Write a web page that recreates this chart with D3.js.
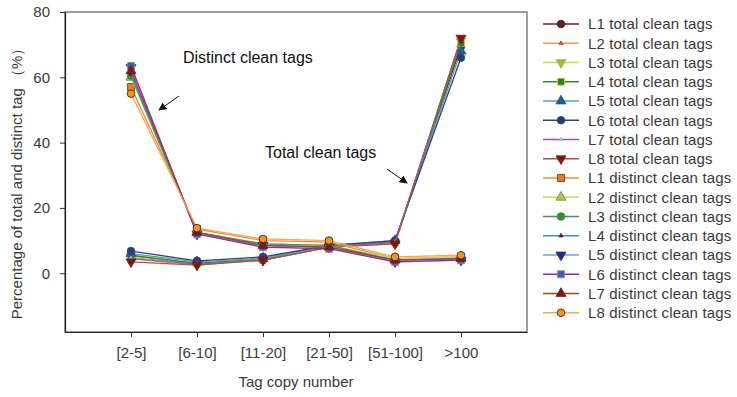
<!DOCTYPE html>
<html lang="en">
<head>
<meta charset="UTF-8" />
<title>Total and distinct clean tags by copy number</title>
<script src="https://d3js.org/d3.v7.min.js"></script>
<style>
  body { margin: 0; background: #fff; overflow: hidden; }
  svg { display: block; font-family: "Liberation Sans", Arial, sans-serif; }
  .tick text { fill: #3a3a3a; font-size: 15px; }
  .legend text { fill: #3a3a3a; font-size: 15px; letter-spacing: 0.15px; }
</style>
</head>
<body>
<svg width="737" height="397"></svg>
<script>
  const width = 737, height = 397;

  const categories = ["[2-5]", "[6-10]", "[11-20]", "[21-50]", "[51-100]", ">100"];
  const yTicks = [0, 20, 40, 60, 80];

  const totalNames = ["L1 total clean tags", "L2 total clean tags", "L3 total clean tags", "L4 total clean tags",
                      "L5 total clean tags", "L6 total clean tags", "L7 total clean tags", "L8 total clean tags"];
  const distinctNames = ["L1 distinct clean tags", "L2 distinct clean tags", "L3 distinct clean tags", "L4 distinct clean tags",
                         "L5 distinct clean tags", "L6 distinct clean tags", "L7 distinct clean tags", "L8 distinct clean tags"];

  // percentages per copy-number bin
  const totalValues = [
    [5.0, 3.0, 4.0, 8.0, 9.5, 69.5],
    [4.5, 2.5, 4.0, 8.0, 9.0, 71.5],
    [5.0, 3.0, 4.0, 8.0, 9.5, 71.0],
    [5.5, 3.0, 4.5, 8.5, 9.5, 70.5],
    [6.0, 3.5, 4.5, 8.5, 10.0, 68.0],
    [6.8, 3.8, 5.0, 8.5, 10.0, 66.0],
    [4.5, 2.8, 4.0, 8.0, 9.5, 72.0],
    [3.5, 2.5, 4.0, 8.0, 9.0, 72.0]
  ];
  const distinctValues = [
    [57.0, 13.5, 10.0, 9.5, 4.5, 5.0],
    [60.0, 12.5, 9.0, 8.5, 4.5, 5.0],
    [60.5, 12.5, 9.0, 8.5, 4.0, 4.5],
    [61.0, 12.5, 8.5, 8.0, 4.0, 4.5],
    [63.0, 12.0, 8.5, 8.0, 3.5, 4.0],
    [63.5, 12.0, 8.0, 7.5, 3.5, 4.0],
    [62.0, 12.5, 8.5, 8.0, 4.0, 4.5],
    [55.0, 13.8, 10.5, 10.0, 5.0, 5.5]
  ];

  // styling, in legend order (8 total then 8 distinct)
  const lineColors = ["#7a1a1a", "#f59a5a", "#c8d850", "#2e8b2e", "#50a8b0", "#3a3a8a", "#a050b0", "#a05a4a",
                      "#f08a40", "#c8d860", "#4a944a", "#30a0b0", "#8898c8", "#8a2aa8", "#a04030", "#f5a850"];
  const markerFills = ["#6b2020", "#e04040", "#9cbc3c", "#2e7d32", "#1f5f7f", "#2e3a80", "#a0c0e0", "#7a1a10",
                       "#e8782a", "#a8c850", "#3a8a3a", "#402060", "#302880", "#4a5aa8", "#7a1a1a", "#f0961e"];
  const markerStrokes = ["#222", "#e04040", "#9cbc3c", "#e0e020", "#1f5f7f", "#2e3a80", "#a0c0e0", "#7a1a10",
                         "#703000", "#708030", "#3a8a3a", "#402060", "#302880", "#60a0c0", "#7a1a1a", "#222"];
  const markerShapes = ["circle", "tiny", "down", "square", "up", "circle", "tiny", "down",
                        "square", "up", "circle", "tiny", "down", "square", "up", "circle"];

  const names = totalNames.concat(distinctNames);
  const allValues = totalValues.concat(distinctValues);
  const series = names.map((n, i) => ({ name: n, values: allValues[i], i }));

  const plot = { left: 65, right: 527, top: 12, bottom: 332 };

  const x = d3.scalePoint().domain(categories).range([plot.left, plot.right]).padding(1);
  const y = d3.scaleLinear().domain([-18, 80]).range([plot.bottom, plot.top]);

  const svg = d3.select("svg");

  function symbolPath(shape) {
    if (shape === "circle") return d3.symbol(d3.symbolCircle, 46)();
    if (shape === "square") return d3.symbol(d3.symbolSquare, 50)();
    if (shape === "up") return d3.symbol(d3.symbolTriangle, 44)();
    if (shape === "down") return d3.symbol(d3.symbolTriangle, 44)();
    return d3.symbol(d3.symbolTriangle, 8)();
  }
  function symbolRotate(shape) { return shape === "down" ? " rotate(180)" : ""; }

  // frame
  svg.append("rect")
    .attr("x", plot.left).attr("y", plot.top)
    .attr("width", plot.right - plot.left).attr("height", plot.bottom - plot.top)
    .attr("fill", "none").attr("stroke", "#6a6a6a").attr("stroke-width", 1.3);

  // axes
  const xAxis = svg.append("g")
    .attr("transform", `translate(0,${plot.bottom})`)
    .call(d3.axisBottom(x).tickSizeInner(5).tickSizeOuter(0).tickPadding(10));
  const yAxis = svg.append("g")
    .attr("transform", `translate(${plot.left},0)`)
    .call(d3.axisLeft(y).tickValues(yTicks).tickSizeInner(5).tickSizeOuter(0).tickPadding(8));
  [xAxis, yAxis].forEach(g => {
    g.select(".domain").attr("stroke", "#222").attr("stroke-width", 1.2);
    g.selectAll(".tick line").attr("stroke", "#333");
  });
  yAxis.selectAll(".tick text").attr("dx", "-2");

  svg.append("text")
    .attr("x", (plot.left + plot.right) / 2).attr("y", 387)
    .attr("text-anchor", "middle").attr("fill", "#3a3a3a").style("font-size", "15px")
    .text("Tag copy number");
  svg.append("text")
    .attr("transform", `translate(22,${(plot.top + plot.bottom) / 2 + 8}) rotate(-90)`)
    .attr("text-anchor", "middle").attr("fill", "#3a3a3a").style("font-size", "15px")
    .text("Percentage of total and distinct tag （%）");

  // lines
  const line = d3.line().x((d, k) => x(categories[k])).y(d => y(d));
  const sg = svg.append("g").selectAll("g").data(series).join("g");
  sg.append("path")
    .attr("d", d => line(d.values))
    .attr("fill", "none")
    .attr("stroke", d => lineColors[d.i])
    .attr("stroke-width", 1.3);
  sg.selectAll(".m").data(d => d.values.map((v, k) => ({ v, k, i: d.i })))
    .join("path").attr("class", "m")
    .attr("d", d => symbolPath(markerShapes[d.i]))
    .attr("transform", d => `translate(${x(categories[d.k])},${y(d.v)})${symbolRotate(markerShapes[d.i])}`)
    .attr("fill", d => markerFills[d.i])
    .attr("stroke", d => markerStrokes[d.i])
    .attr("stroke-width", 0.8);

  // annotations
  svg.append("defs").append("marker")
    .attr("id", "arrow").attr("viewBox", "0 0 10 10").attr("refX", 9).attr("refY", 5)
    .attr("markerWidth", 8).attr("markerHeight", 8).attr("orient", "auto")
    .append("path").attr("d", "M0,0 L10,5 L0,10 z").attr("fill", "#111");

  svg.append("text").attr("x", 183).attr("y", 63)
    .attr("fill", "#111").style("font-size", "16px").text("Distinct clean tags");
  svg.append("line").attr("x1", 179).attr("y1", 96).attr("x2", 159).attr("y2", 110)
    .attr("stroke", "#111").attr("stroke-width", 1).attr("marker-end", "url(#arrow)");

  svg.append("text").attr("x", 265).attr("y", 158)
    .attr("fill", "#111").style("font-size", "16px").text("Total clean tags");
  svg.append("line").attr("x1", 387).attr("y1", 169).attr("x2", 407).attr("y2", 183)
    .attr("stroke", "#111").attr("stroke-width", 1).attr("marker-end", "url(#arrow)");

  // legend
  const legend = svg.append("g").attr("class", "legend")
    .attr("transform", "translate(543,24)");
  const item = legend.selectAll("g").data(series).join("g")
    .attr("transform", (d, k) => `translate(0,${k * 19.25})`);
  item.append("line").attr("x1", 0).attr("x2", 36)
    .attr("stroke", d => lineColors[d.i]).attr("stroke-width", 1.3);
  item.append("path")
    .attr("d", d => symbolPath(markerShapes[d.i]))
    .attr("transform", d => `translate(18,0)${symbolRotate(markerShapes[d.i])}`)
    .attr("fill", d => markerFills[d.i])
    .attr("stroke", d => markerStrokes[d.i])
    .attr("stroke-width", 0.8);
  item.append("text").attr("x", 45).attr("dy", "0.35em").text(d => d.name);
</script>
</body>
</html>
